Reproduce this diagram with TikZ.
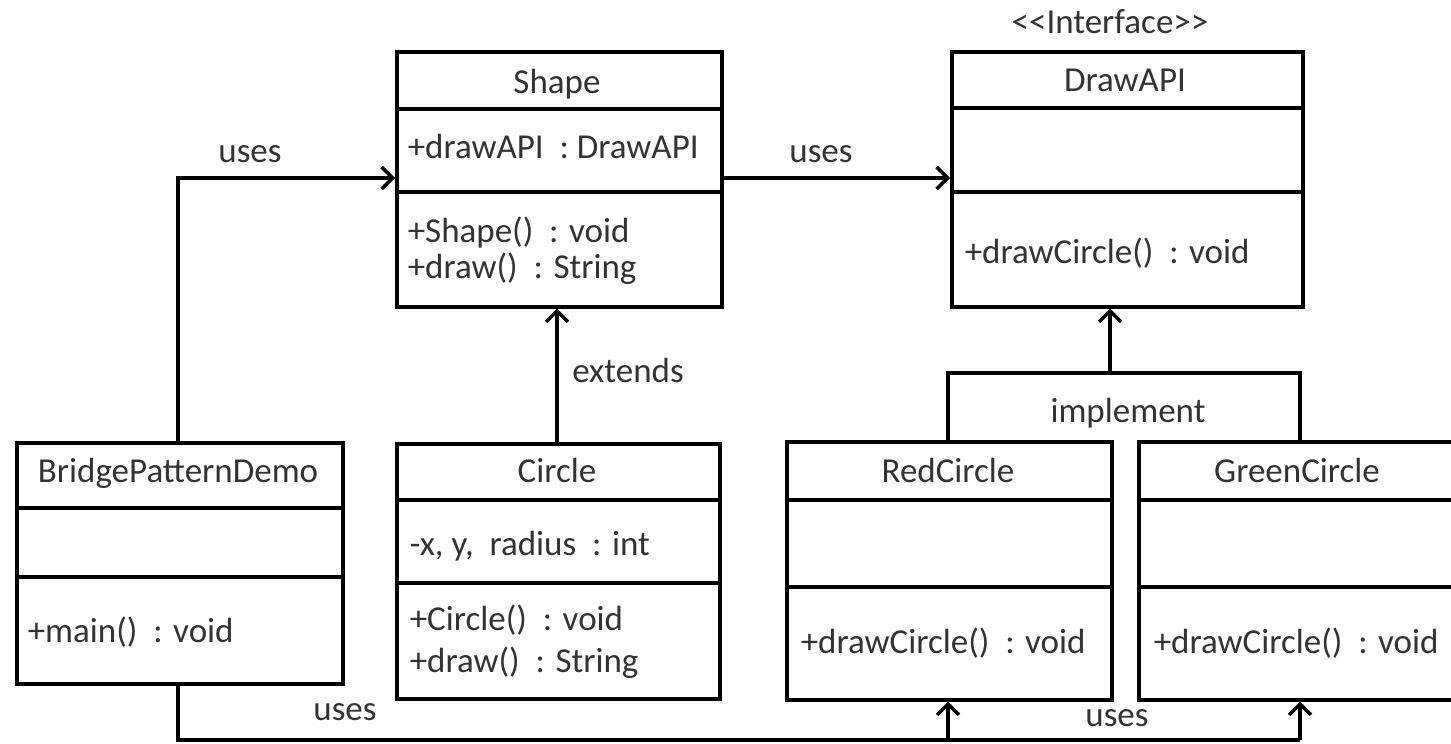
\documentclass[tikz,border=0pt]{standalone}
\usepackage{fontspec}
\setmainfont{Carlito}
\usetikzlibrary{arrows.meta}
\begin{document}
\begin{tikzpicture}[x=1pt,y=-1pt,
  line width=3.5pt,
  box/.style={draw=black, line width=3.5pt, inner sep=0pt, anchor=north west},
  txt/.style={inner sep=0pt, text=black!80, font=\fontsize{35}{40}\selectfont},
  ttl/.style={txt, anchor=base},
  lt/.style={txt, anchor=base west},
  arr/.style={-{Straight Barb[length=11pt,width=22pt]}},
]
\clip (0,0) rectangle (1451,744);
\fill[white] (0,0) rectangle (1451,744);

% ---------- boxes ----------
\node[box, minimum width=326pt, minimum height=241pt] (bpd) at (15,441) {};
\node[box, minimum width=325pt, minimum height=255pt] (shape) at (395,50) {};
\node[box, minimum width=351pt, minimum height=255pt] (drawapi) at (950,50) {};
\node[box, minimum width=323pt, minimum height=255pt] (circle) at (395,442) {};
\node[box, minimum width=325pt, minimum height=258pt] (red) at (785,440) {};
\node[box, minimum width=330pt, minimum height=258pt] (green) at (1137,440) {};

% dividers
\draw (bpd.west |- 0,508) -- (bpd.east |- 0,508);
\draw (bpd.west |- 0,577) -- (bpd.east |- 0,577);
\draw (shape.west |- 0,109) -- (shape.east |- 0,109);
\draw (shape.west |- 0,192) -- (shape.east |- 0,192);
\draw (drawapi.west |- 0,108) -- (drawapi.east |- 0,108);
\draw (drawapi.west |- 0,192) -- (drawapi.east |- 0,192);
\draw (circle.west |- 0,500) -- (circle.east |- 0,500);
\draw (circle.west |- 0,583) -- (circle.east |- 0,583);
\draw (red.west |- 0,500) -- (red.east |- 0,500);
\draw (red.west |- 0,587) -- (red.east |- 0,587);
\draw (green.west |- 0,500) -- (green.east |- 0,500);
\draw (green.west |- 0,587) -- (green.east |- 0,587);

% ---------- texts ----------
\node[ttl] (bpdT) at (178,482) {BridgePatternDemo};
\node[lt] (bpdM) at (26,642) {+main()\ \ : void};

\node[ttl] (shapeT) at (557,93) {Shape};
\node[lt] (shapeA) at (406,158) {+drawAPI\ \ : DrawAPI};
\node[lt] (shapeM1) at (406,242) {+Shape()\ \ : void};
\node[lt] (shapeM2) at (406,278) {+draw()\ \ : String};

\node[ttl] (ifaceT) at (1110,33) {<{}<Interface>{}>};
\node[ttl] (drawapiT) at (1125,91) {DrawAPI};
\node[lt] (drawapiM) at (963,263) {+drawCircle()\ \ : void};

\node[ttl] (circleT) at (557,482) {Circle};
\node[lt] (circleA) at (408,555) {-x, y,\ \ radius\ \ : int};
\node[lt] (circleM1) at (408,630) {+Circle()\ \ : void};
\node[lt] (circleM2) at (408,672) {+draw()\ \ : String};

\node[ttl] (redT) at (948,482) {RedCircle};
\node[lt] (redM) at (799,653) {+drawCircle()\ \ : void};

\node[ttl] (greenT) at (1297,482) {GreenCircle};
\node[lt] (greenM) at (1152,653) {+drawCircle()\ \ : void};

% ---------- connectors ----------
\coordinate (c1) at (178,178);
\draw[arr] (bpd.north -| c1) -- (c1) -- (shape.west |- c1);
\node[ttl] (uses1) at (250,162) {uses};

\draw[arr] (shape.east |- c1) -- (drawapi.west |- c1);
\node[ttl] (uses2) at (821,162) {uses};

\coordinate (c2) at (557,0);
\draw[arr] (circle.north -| c2) -- (shape.south -| c2);
\node[ttl] (ext) at (628,382) {extends};

\coordinate (il) at (948,373);
\coordinate (ir) at (1300,373);
\coordinate (im) at (1110,373);
\draw (red.north -| il) -- (il) -- (ir) -- (green.north -| ir);
\draw[arr] (im) -- (drawapi.south -| im);
\node[ttl] (impl) at (1128,422) {implement};

\coordinate (b0) at (178,740);
\coordinate (b1) at (948,740);
\coordinate (b2) at (1300,740);
\draw (bpd.south -| b0) -- (b0) -- (b2);
\draw[arr] (b1) -- (red.south -| b1);
\draw[arr] (b2) -- (green.south -| b2);
\node[ttl] (uses3) at (345,720) {uses};
\node[ttl] (uses4) at (1117,726) {uses};
\end{tikzpicture}
\end{document}
